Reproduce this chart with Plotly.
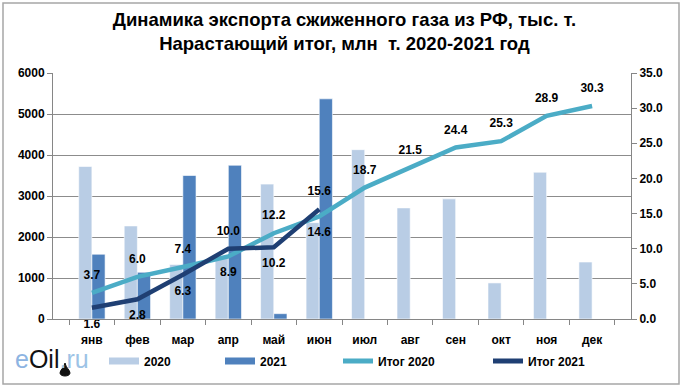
import plotly.graph_objects as go

months = ["янв", "фев", "мар", "апр", "май", "июн", "июл", "авг", "сен", "окт", "ноя", "дек"]
exp_2020 = [3720, 2270, 1330, 1500, 3290, 2350, 4130, 2710, 2930, 880, 3580, 1390]
exp_2021 = [1580, 1140, 3500, 3750, 130, 5370]
cum_2020 = [3.7, 6.0, 7.4, 8.9, 12.2, 14.6, 18.7, 21.5, 24.4, 25.3, 28.9, 30.3]
cum_2021 = [1.6, 2.8, 6.3, 10.0, 10.2, 15.6]
pos_2020 = ["top center", "top center", "top center", "bottom center", "top center", "bottom center",
            "top center", "top center", "top center", "top center", "top center", "top center"]
pos_2021 = ["bottom center", "bottom center", "bottom center", "top center", "bottom center", "top center"]

C20, C21, L20, L21 = "#B9CDE5", "#4F81BD", "#4BACC6", "#1F3F73"
FONT = "Liberation Sans, Arial, sans-serif"
lab_font = dict(family=FONT, size=12, color="black")

L, R, T, B = 53, 51, 73, 70
W, H = 682, 389
pw, ph = W - L - R, H - T - B


def px(x):
    return (x - L) / pw


def py(y):
    return (H - B - y) / ph


fig = go.Figure()
fig.add_trace(go.Bar(x=months, y=exp_2020, name="2020", showlegend=False,
                     marker=dict(color=C20, line=dict(color="white", width=0.6))))
fig.add_trace(go.Bar(x=months[:len(exp_2021)], y=exp_2021, name="2021", showlegend=False,
                     marker=dict(color=C21, line=dict(color="white", width=0.6))))
fig.add_trace(go.Scatter(x=months, y=cum_2020, name="Итог 2020", yaxis="y2", mode="lines+markers+text",
                         line=dict(color=L20, width=4.5), marker=dict(size=16, color="rgba(0,0,0,0)"),
                         text=[f"<b>{v:.1f}</b>" for v in cum_2020], textposition=pos_2020,
                         textfont=lab_font, cliponaxis=False, showlegend=False))
fig.add_trace(go.Scatter(x=months[:len(cum_2021)], y=cum_2021, name="Итог 2021", yaxis="y2",
                         mode="lines+markers+text",
                         line=dict(color=L21, width=4.5), marker=dict(size=16, color="rgba(0,0,0,0)"),
                         text=[f"<b>{v:.1f}</b>" for v in cum_2021], textposition=pos_2021,
                         textfont=lab_font, cliponaxis=False, showlegend=False))

# legend entries (one legend each, placed like the reference)
leg_items = [("2020", C20, 7, "legend", 104), ("2021", C21, 7, "legend2", 220),
             ("Итог 2020", L20, 5, "legend3", 338), ("Итог 2021", L21, 5, "legend4", 488)]
legend_layout = {}
for name, col, wid, lg, xpos in leg_items:
    fig.add_trace(go.Scatter(x=[None], y=[None], mode="lines", name=f"<b>{name}</b>", legend=lg,
                             line=dict(color=col, width=wid), showlegend=True))
    legend_layout[lg] = dict(orientation="h", x=px(xpos), xanchor="left", y=py(361), yanchor="middle",
                             font=dict(family=FONT, size=12, color="black"), bgcolor="rgba(0,0,0,0)",
                             itemwidth=30)

fig.update_layout(
    width=W, height=H,
    margin=dict(l=L, r=R, t=T, b=B, autoexpand=False),
    paper_bgcolor="white", plot_bgcolor="white",
    font=dict(family=FONT, size=12, color="black"),
    barmode="group", bargap=0.42, bargroupgap=0,
    title=dict(text="<b>Динамика экспорта сжиженного газа из РФ, тыс. т.<br>Нарастающий итог, млн  т. 2020-2021 год</b>",
               x=0.505, xanchor="center", y=1 - 26 / H, yanchor="middle",
               font=dict(family=FONT, size=18.5, color="black")),
    xaxis=dict(type="category", showgrid=False, ticks="outside", tickson="boundaries", ticklen=5,
               tickcolor="#868686", showline=True, linecolor="#868686", linewidth=1, ticklabelstandoff=10,
               tickfont=dict(family=FONT, size=12, color="black"), tickprefix="<b>", ticksuffix="</b>"),
    yaxis=dict(range=[0, 6000], dtick=1000, showgrid=True, gridcolor="#8C8C8C", gridwidth=1,
               ticks="outside", ticklen=5, tickcolor="#868686", showline=True, linecolor="#868686",
               tickfont=dict(family=FONT, size=12, color="black"), tickprefix="<b>", ticksuffix="</b>",
               zeroline=False),
    yaxis2=dict(range=[0, 35], dtick=5, tickformat=".1f", overlaying="y", side="right", showgrid=False,
                ticks="outside", ticklen=5, tickcolor="#868686", showline=True, linecolor="#868686",
                tickfont=dict(family=FONT, size=12, color="black"), tickprefix="<b>", ticksuffix="</b>",
                zeroline=False),
    **legend_layout,
)

fig.add_shape(type="rect", xref="paper", yref="paper", x0=px(3), x1=px(679), y0=py(384), y1=py(3),
              line=dict(color="#A6A6A6", width=1.5), fillcolor="rgba(0,0,0,0)", layer="below")

# logo
fig.add_annotation(xref="paper", yref="paper", x=px(13), y=py(359), xanchor="left", yanchor="middle",
                   showarrow=False,
                   text="<span style='color:#8DB4E2'>e</span><span style='color:#111111'>Oil</span><span style='color:#9DC3E6'>.ru</span>",
                   font=dict(family=FONT, size=25))
# oil drop under the logo
dx, dy = px(65), py(372)
sx, sy = 1 / pw, 1 / ph
drop = (f"M {dx} {dy + 9 * sy} "
        f"C {dx - 1 * sx} {dy + 4 * sy}, {dx - 5 * sx} {dy + 2 * sy}, {dx - 5 * sx} {dy - 1 * sy} "
        f"C {dx - 5 * sx} {dy - 5 * sy}, {dx + 5 * sx} {dy - 5 * sy}, {dx + 5 * sx} {dy - 1 * sy} "
        f"C {dx + 5 * sx} {dy + 2 * sy}, {dx + 1 * sx} {dy + 4 * sy}, {dx} {dy + 9 * sy} Z")
fig.add_shape(type="path", xref="paper", yref="paper", path=drop, fillcolor="#111111",
              line=dict(color="#111111", width=1))

fig.write_html("out.html", config={"displayModeBar": False},
               post_script="document.body.style.margin='0px';document.body.style.overflow='hidden';")
